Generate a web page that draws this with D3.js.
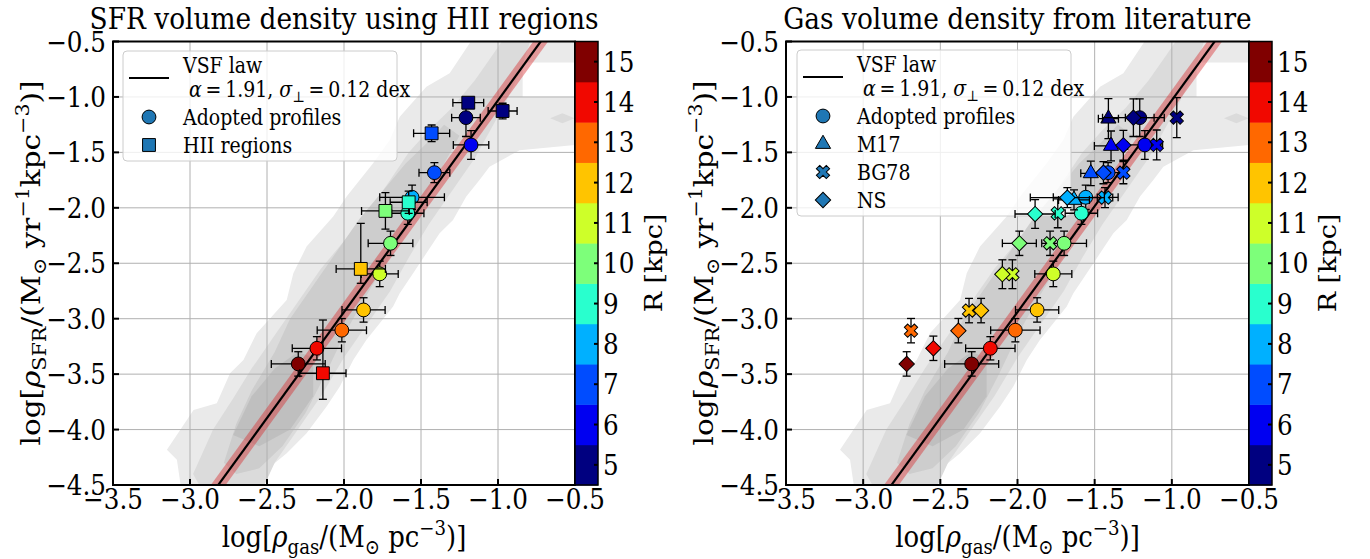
<!DOCTYPE html>
<html><head><meta charset="utf-8">
<script src="https://cdn.jsdelivr.net/npm/d3@7"></script>
<style>body{margin:0;background:#fff} text{font-family:"DejaVu Serif",serif;fill:#000}</style>
</head><body><svg id="c" width="1370" height="559"></svg>
<script>
// ---------------- data ----------------
const GAS_TICKS = [-3.5,-3.0,-2.5,-2.0,-1.5,-1.0,-0.5];
const SFR_TICKS = [-0.5,-1.0,-1.5,-2.0,-2.5,-3.0,-3.5,-4.0,-4.5];
const R_TICKS = [5,6,7,8,9,10,11,12,13,14,15];
const R_COLORS = ["#000080","#0000f1","#004cff","#00b0ff","#29ffce","#7dff7a","#ceff29","#ffc400","#ff6800","#f10800","#800000"];
const VSF_ALPHA = 1.91, VSF_B = 0.88;

// Adopted profiles (circles) - both panels
const prof_R   = [5,6,7,8,9,10,11,12,13,14,15];
const prof_gas = [-1.208,-1.175,-1.413,-1.558,-1.586,-1.698,-1.768,-1.873,-2.014,-2.176,-2.297];
const prof_sfr = [-1.187,-1.433,-1.683,-1.905,-2.049,-2.320,-2.596,-2.921,-3.104,-3.267,-3.408];
const prof_xerr= [0.093,0.115,0.10,0.21,0.105,0.145,0.12,0.14,0.16,0.16,0.175];
const prof_yerr= [0.17,0.13,0.09,0.11,0.10,0.11,0.115,0.11,0.105,0.105,0.11];

// HII regions (squares) - left panel
const hii_R    = [5,5,7,9,10,12,14];
const hii_gas  = [-1.193,-0.970,-1.431,-1.580,-1.731,-1.891,-2.137];
const hii_sfr  = [-1.052,-1.127,-1.328,-1.950,-2.028,-2.551,-3.492];
const hii_xerr = [0.10,0.094,0.117,0.12,0.155,0.16,0.15];
const hii_ylo  = [0.03,0.07,0.075,0.10,0.165,0.13,0.235];
const hii_yhi  = [0.03,0.07,0.075,0.10,0.165,0.41,0.48];

// M17 (triangles) - right panel
const m17_R    = [5,6,7,8];
const m17_gas  = [-1.411,-1.394,-1.525,-1.634];
const m17_sfr  = [-1.196,-1.442,-1.689,-1.929];
const m17_xerr = [0.065,0.108,0.065,0.10];
const m17_yerr = [0.18,0.135,0.11,0.09];

// BG78 (X) - right panel
const bg_R     = [5,6,7,8,9,10,11,12,13];
const bg_gas   = [-0.968,-1.098,-1.314,-1.433,-1.739,-1.789,-2.033,-2.314,-2.690];
const bg_sfr   = [-1.187,-1.433,-1.683,-1.908,-2.050,-2.320,-2.599,-2.927,-3.108];
const bg_xerr  = [0,0,0,0.05,0,0,0,0,0];
const bg_yerr  = [0.18,0.135,0.10,0.09,0.13,0.11,0.13,0.11,0.11];

// NS (diamonds) - right panel
const ns_R     = [5,6,7,8,9,10,11,12,13,14,15];
const ns_gas   = [-1.249,-1.314,-1.443,-1.677,-1.886,-1.988,-2.098,-2.236,-2.383,-2.545,-2.718];
const ns_sfr   = [-1.187,-1.436,-1.683,-1.908,-2.056,-2.320,-2.599,-2.927,-3.108,-3.267,-3.408];
const ns_xerr  = [0.20,0,0,0.24,0.13,0.11,0,0,0,0,0];
const ns_yerr  = [0.17,0.135,0.10,0.09,0.13,0.11,0.13,0.11,0.11,0.11,0.11];

// density contours (log gas, log SFR), outer -> inner
const CONT_1 = [[-3.150,-4.183],[-2.977,-3.823],[-2.826,-3.763],[-2.740,-3.492],[-2.653,-3.372],[-2.567,-3.131],[-2.372,-2.831],[-2.329,-2.590],[-2.243,-2.350],[-2.070,-2.079],[-1.983,-1.899],[-1.811,-1.599],[-1.703,-1.388],[-1.638,-1.178],[-1.465,-0.907],[-1.314,-0.787],[-1.184,-0.516],[-1.14,-0.4],[-0.4,-0.4],[-0.4,-0.69],[-0.84,-0.69],[-0.84,-1.0],[-0.4,-1.0],[-0.4,-1.42],[-0.86,-1.48],[-1.055,-1.629],[-1.120,-1.749],[-1.206,-1.899],[-1.292,-2.110],[-1.379,-2.230],[-1.465,-2.410],[-1.551,-2.590],[-1.638,-2.771],[-1.681,-2.891],[-1.768,-3.041],[-1.854,-3.191],[-1.940,-3.372],[-2.027,-3.612],[-2.113,-3.793],[-2.243,-4.033],[-2.372,-4.213],[-2.502,-4.363],[-2.632,-4.499],[-2.68,-4.7],[-3.04,-4.7],[-3.085,-4.273]];
const CONT_2 = [[-2.98,-4.4],[-2.85,-4.0],[-2.72,-3.72],[-2.6,-3.45],[-2.45,-3.15],[-2.3,-2.85],[-2.15,-2.55],[-2.0,-2.3],[-1.85,-2.05],[-1.7,-1.75],[-1.58,-1.5],[-1.45,-1.3],[-1.3,-1.1],[-1.15,-0.85],[-1.05,-0.65],[-0.95,-0.45],[-0.78,-0.45],[-0.85,-0.75],[-0.95,-1.05],[-1.05,-1.3],[-1.15,-1.55],[-1.3,-1.85],[-1.45,-2.15],[-1.58,-2.45],[-1.7,-2.75],[-1.85,-3.05],[-2.0,-3.35],[-2.15,-3.7],[-2.3,-4.0],[-2.45,-4.3],[-2.55,-4.6],[-2.9,-4.6]];
const CONT_2B = [[-0.662,-1.193],[-0.582,-1.148],[-0.502,-1.193],[-0.582,-1.238]];
const CONT_3 = [[-2.78,-4.3],[-2.7,-3.95],[-2.6,-3.65],[-2.45,-3.3],[-2.35,-3.0],[-2.2,-2.7],[-2.05,-2.4],[-1.9,-2.1],[-1.75,-1.85],[-1.6,-1.6],[-1.45,-1.4],[-1.35,-1.25],[-1.25,-1.35],[-1.35,-1.6],[-1.5,-1.95],[-1.62,-2.25],[-1.75,-2.55],[-1.88,-2.85],[-2.0,-3.15],[-2.12,-3.5],[-2.25,-3.85],[-2.4,-4.15],[-2.55,-4.35],[-2.7,-4.4]];
const CONT_4 = [[-2.72,-4.05],[-2.6,-3.7],[-2.45,-3.45],[-2.3,-3.3],[-2.2,-3.35],[-2.2,-3.7],[-2.35,-4.0],[-2.55,-4.15]];
const CONT_COLORS = ["#eaeaea","#dbdbdb","#dbdbdb","#cdcdcd","#bfbfbf"];

// ---------------- drawing ----------------
const SX = 0.88;          // horizontal text compression of the reference
const FS_TICK = 28, FS_TITLE = 30, FS_LABEL = 29.5, FS_LEG = 21.5, FS_CBL = 27;
const svg = d3.select("#c");
const col = d3.scaleThreshold().domain(R_TICKS.slice(0,-1).map(r=>r+0.5)).range(R_COLORS);

function rich(parent, parts, fs) {
  const t = parent.append("text").attr("font-size", fs);
  let shift = 0;
  parts.forEach(p => {
    const target = p.sub ? fs*0.25 : p.sup ? -fs*0.42 : 0;
    const ts = t.append("tspan").text(p.t).attr("dy", target - shift);
    shift = target;
    if (p.sub || p.sup) ts.attr("font-size", fs*0.7);
    if (p.it) ts.attr("font-style", "italic");
  });
  return t;
}
function gAt(parent, x, y, rot) {
  return parent.append("g").attr("transform", rot ? `translate(${x},${y}) rotate(${rot}) scale(1,${SX})` : `translate(${x},${y}) scale(${SX},1)`);
}

const sym = {
  circle: d3.symbol(d3.symbolCircle, 150)(),
  square: d3.symbol(d3.symbolSquare, 165)(),
  triangle: d3.symbol(d3.symbolTriangle, 100)(),
  diamond: d3.symbol(d3.symbolSquare, 118)(),
  x: d3.symbol(d3.symbolCross, 110)()
};
const symRot = {circle:0, square:0, triangle:0, diamond:45, x:45};

function drawPanel(P) {
  const x = d3.scaleLinear().domain([-3.5,-0.5]).range([P.x0, P.x1]);
  const y = d3.scaleLinear().domain([-4.5,-0.5]).range([485, 41.5]);
  const g = svg.append("g");
  const cid = "clip" + P.id;
  svg.append("clipPath").attr("id", cid).append("rect")
    .attr("x", P.x0).attr("y", 41.5).attr("width", P.x1-P.x0).attr("height", 485-41.5);
  const pg = g.append("g").attr("clip-path", `url(#${cid})`);
  const line = d3.line().x(d=>x(d[0])).y(d=>y(d[1])).curve(d3.curveLinearClosed);
  [CONT_1, CONT_2, CONT_2B, CONT_3, CONT_4].forEach((c,i) =>
    pg.append("path").attr("d", line(c)).attr("fill", CONT_COLORS[i]));
  // grid
  GAS_TICKS.slice(1,-1).forEach(v => pg.append("line").attr("x1",x(v)).attr("x2",x(v)).attr("y1",41.5).attr("y2",485).attr("stroke","#b0b0b0").attr("stroke-width",1));
  SFR_TICKS.slice(1,-1).forEach(v => pg.append("line").attr("y1",y(v)).attr("y2",y(v)).attr("x1",P.x0).attr("x2",P.x1).attr("stroke","#b0b0b0").attr("stroke-width",1));
  // legend (below the data marks)
  const L = P.leg, lg = g.append("g");
  lg.append("rect").attr("x",L.x).attr("y",L.y).attr("width",L.w).attr("height",L.h).attr("rx",4)
    .attr("fill","#fff").attr("fill-opacity",0.8).attr("stroke","#cccccc").attr("stroke-width",1);
  lg.append("line").attr("x1",L.x+6).attr("x2",L.x+46).attr("y1",L.y+27).attr("y2",L.y+27).attr("stroke","#000").attr("stroke-width",2);
  gAt(lg, L.x+60, L.y+22).append("text").attr("font-size",FS_LEG).text("VSF law");
  rich(gAt(lg, L.x+66, L.y+46), [{t:"α",it:1},{t:"\u2009=\u20091.91, "},{t:"σ",it:1},{t:"⊥",sub:1},{t:"\u2009=\u20090.12 dex"}], FS_LEG);
  L.items.forEach((it,i) => {
    const yy = L.y + 66 + i*28;
    lg.append("path").attr("d", sym[it.marker]).attr("transform",`translate(${L.x+26},${yy}) rotate(${symRot[it.marker]})`)
      .attr("fill","#1f77b4").attr("stroke","#000").attr("stroke-width",1);
    gAt(lg, L.x+60, yy+8).append("text").attr("font-size",FS_LEG).text(it.label);
  });
  const dg = g.append("g").attr("clip-path", `url(#${cid})`);
  // VSF law
  const lx = [-3.2,-0.3];
  const law = d3.line().x(d=>x(d)).y(d=>y(VSF_ALPHA*d+VSF_B));
  dg.append("path").attr("d", law(lx)).attr("stroke","#d62728").attr("stroke-opacity",0.42).attr("stroke-width",12).attr("fill","none");
  dg.append("path").attr("d", law(lx)).attr("stroke","#000").attr("stroke-width",2.2).attr("fill","none");
  // series
  P.series.forEach(S => {
    const n = S.gas.length;
    const eb = dg.append("g").attr("stroke","#000").attr("stroke-width",1.3);
    const cap = 4;
    for (let i=0;i<n;i++){
      const cx = x(S.gas[i]), cy = y(S.sfr[i]);
      const xe = S.xerr[i];
      if (xe>0){
        const xa=x(S.gas[i]-xe), xb=x(S.gas[i]+xe);
        eb.append("line").attr("x1",xa).attr("x2",xb).attr("y1",cy).attr("y2",cy);
        eb.append("line").attr("x1",xa).attr("x2",xa).attr("y1",cy-cap).attr("y2",cy+cap);
        eb.append("line").attr("x1",xb).attr("x2",xb).attr("y1",cy-cap).attr("y2",cy+cap);
      }
      const ylo = S.ylo[i], yhi = S.yhi[i];
      if (ylo>0||yhi>0){
        const ya=y(S.sfr[i]-ylo), yb=y(S.sfr[i]+yhi);
        eb.append("line").attr("x1",cx).attr("x2",cx).attr("y1",ya).attr("y2",yb);
        eb.append("line").attr("y1",ya).attr("y2",ya).attr("x1",cx-cap).attr("x2",cx+cap);
        eb.append("line").attr("y1",yb).attr("y2",yb).attr("x1",cx-cap).attr("x2",cx+cap);
      }
    }
    for (let i=0;i<n;i++){
      dg.append("path").attr("d", sym[S.marker])
        .attr("transform",`translate(${x(S.gas[i])},${y(S.sfr[i])}) rotate(${symRot[S.marker]})`)
        .attr("fill", col(S.R[i])).attr("stroke","#000").attr("stroke-width",1);
    }
  });
  // frame
  g.append("rect").attr("x",P.x0).attr("y",41.5).attr("width",P.x1-P.x0).attr("height",485-41.5)
    .attr("fill","none").attr("stroke","#000").attr("stroke-width",2);
  // ticks
  GAS_TICKS.forEach(v => {
    g.append("line").attr("x1",x(v)).attr("x2",x(v)).attr("y1",485).attr("y2",479).attr("stroke","#000").attr("stroke-width",2);
    gAt(g, x(v), 509).append("text").attr("font-size",FS_TICK).attr("text-anchor","middle").text(d3.format(".1f")(v));
  });
  SFR_TICKS.forEach(v => {
    g.append("line").attr("x1",P.x0).attr("x2",P.x0+6).attr("y1",y(v)).attr("y2",y(v)).attr("stroke","#000").attr("stroke-width",2);
    gAt(g, P.x0-7, y(v)+10).append("text").attr("font-size",FS_TICK).attr("text-anchor","end").text(d3.format(".1f")(v));
  });
  // colorbar
  const cy = d3.scaleLinear().domain([4.5,15.5]).range([485,41.5]);
  const cb = svg.append("g");
  R_TICKS.forEach((r,i) => cb.append("rect").attr("x",P.x1).attr("width",P.cbw)
     .attr("y",cy(r+0.5)).attr("height",cy(r-0.5)-cy(r+0.5)+0.5).attr("fill",R_COLORS[i]));
  cb.append("rect").attr("x",P.x1).attr("width",P.cbw).attr("y",41.5).attr("height",485-41.5)
    .attr("fill","none").attr("stroke","#000").attr("stroke-width",1.5);
  R_TICKS.forEach(r => {
    cb.append("line").attr("x1",P.x1+P.cbw).attr("x2",P.x1+P.cbw-4).attr("y1",cy(r)).attr("y2",cy(r)).attr("stroke","#000").attr("stroke-width",2);
    gAt(cb, P.x1+P.cbw+5, cy(r)+10).append("text").attr("font-size",FS_TICK).text(r);
  });
  gAt(cb, P.x1+P.cbw+64, 263, -90).append("text").attr("font-size",FS_CBL).attr("text-anchor","middle").text("R [kpc]");
  // title
  gAt(svg, (P.x0+P.x1)/2, 29).append("text").attr("font-size",FS_TITLE).attr("text-anchor","middle").text(P.title);
  // axis labels
  rich(gAt(svg, (P.x0+P.x1)/2, 547), [{t:"log["},{t:"ρ",it:1},{t:"gas",sub:1},{t:"/(M"},{t:"⊙",sub:1},{t:" pc"},{t:"−3",sup:1},{t:")]"}], FS_LABEL).attr("text-anchor","middle");
  rich(gAt(svg, P.x0-73, 263, -90), [{t:"log["},{t:"ρ",it:1},{t:"SFR",sub:1},{t:"/(M"},{t:"⊙",sub:1},{t:" yr"},{t:"−1",sup:1},{t:"kpc"},{t:"−3",sup:1},{t:")]"}], FS_LABEL).attr("text-anchor","middle");
}

const mk = (R,gas,sfr,xerr,ylo,yhi,marker)=>({R,gas,sfr,xerr,ylo,yhi,marker});
drawPanel({id:"L", x0:113, x1:575, cbw:23, title:"SFR volume density using HII regions",
  series:[mk(prof_R,prof_gas,prof_sfr,prof_xerr,prof_yerr,prof_yerr,"circle"),
          mk(hii_R,hii_gas,hii_sfr,hii_xerr,hii_ylo,hii_yhi,"square")],
  leg:{x:123,y:51,w:274,h:110, items:[{marker:"circle",label:"Adopted profiles"},{marker:"square",label:"HII regions"}]}});
drawPanel({id:"R", x0:786, x1:1249, cbw:23, title:"Gas volume density from literature",
  series:[mk(prof_R,prof_gas,prof_sfr,prof_xerr,prof_yerr,prof_yerr,"circle"),
          mk(m17_R,m17_gas,m17_sfr,m17_xerr,m17_yerr,m17_yerr,"triangle"),
          mk(bg_R,bg_gas,bg_sfr,bg_xerr,bg_yerr,bg_yerr,"x"),
          mk(ns_R,ns_gas,ns_sfr,ns_xerr,ns_yerr,ns_yerr,"diamond")],
  leg:{x:797,y:50,w:274,h:166, items:[{marker:"circle",label:"Adopted profiles"},{marker:"triangle",label:"M17"},{marker:"x",label:"BG78"},{marker:"diamond",label:"NS"}]}});
</script></body></html>
